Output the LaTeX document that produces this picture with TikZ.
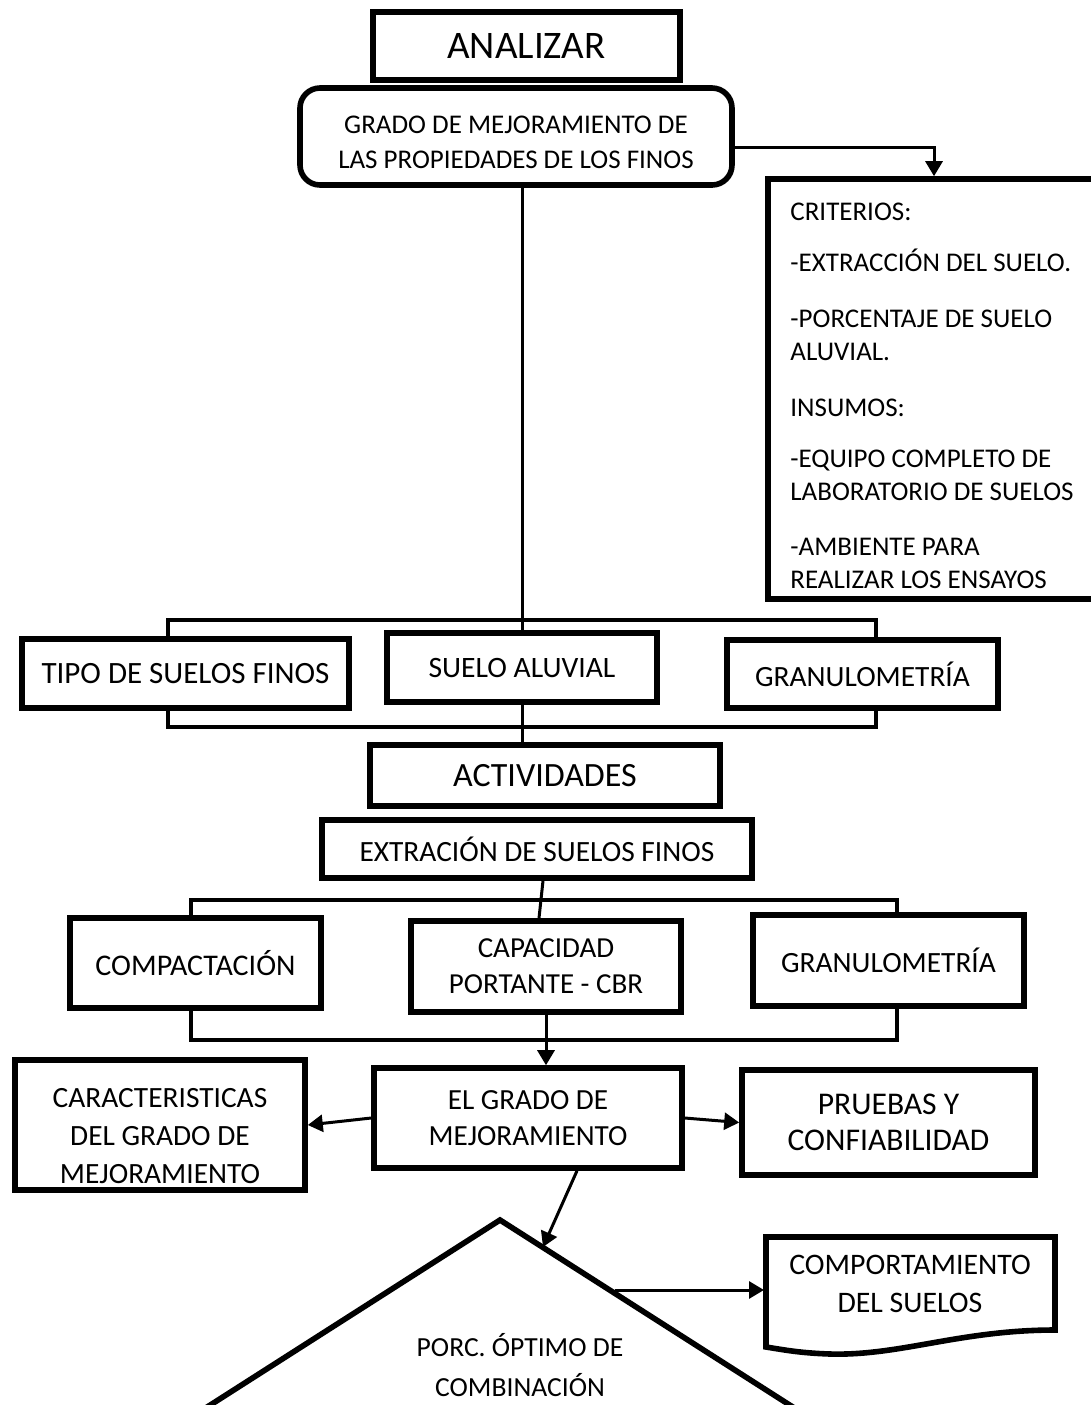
\documentclass[tikz,border=0pt]{standalone}
\usepackage{fontspec}
\setmainfont{Carlito}
\usepackage{tikz}
\usetikzlibrary{positioning}
\usetikzlibrary{arrows.meta,shapes}
\usetikzlibrary{calc}
\newcommand{\titlefont}{\fontsize{19.5}{21}\selectfont}
\tikzstyle{block}=[rectangle,draw,line width=2.8pt,inner sep=0pt,align=center]
\tikzstyle{titleblock}=[rectangle,draw,line width=3pt,inner sep=0pt,font=\titlefont]
\tikzstyle{arrowedge} = [draw,line width=1.5pt,-{Triangle[width=8.5pt,length=7.5pt]}]
\tikzstyle{bracketedge} = [draw,line width=1.8pt]
\tikzstyle{plainedge} = [draw,line width=1.5pt]
\tikzset{txt/.style={inner sep=0pt,align=center}}

\begin{document}
\begin{tikzpicture}[x=0.5pt,y=-0.5pt]

 \clip (0,0) rectangle (1091,1405);
 \def\u{0.5pt};

 %Top
 \node[titleblock,minimum width=307*\u,minimum height=68*\u] (analizar) at (526.5,46) {ANALIZAR};
 \node[block,rounded corners=10pt,minimum width=432*\u,minimum height=97*\u] (grado) at (516,136.5) {};
 \node[txt,font=\fontsize{13.5}{17.5}\selectfont] (gradotext) at ([yshift=-3pt]grado.center)
      {GRADO DE MEJORAMIENTO DE\\LAS PROPIEDADES DE LOS FINOS};

 %Criterios
 \node[block,minimum width=332*\u,minimum height=420*\u] (crit) at (934,389) {};
 \node[inner sep=0pt,anchor=north west,align=left,font=\fontsize{13.5}{16.5}\selectfont] (crittext) at (790,203)
      {CRITERIOS:\\[9pt]
       -EXTRACCIÓN DEL SUELO.\\[11.5pt]
       -PORCENTAJE DE SUELO\\ALUVIAL.\\[11.5pt]
       INSUMOS:\\[9pt]
       -EQUIPO COMPLETO DE\\LABORATORIO DE SUELOS\\[11pt]
       -AMBIENTE PARA\\REALIZAR LOS ENSAYOS};

 %Level 1
 \foreach \x/\y/\w/\h/\fs/\name/\label in {185.5/673.5/327/69/15.5/tipo/{TIPO DE SUELOS FINOS},
          522/667.5/270/69/14.8/aluvial/{SUELO ALUVIAL}, 862.5/674/271/68/14.7/granA/{GRANULOMETRÍA},
          545/775.5/350/61/17/activ/{ACTIVIDADES}, 537/849/430/58/14.7/extrac/{EXTRACIÓN DE SUELOS FINOS}}
          \node[block,font=\fontsize{\fs}{18}\selectfont,minimum width=\w*\u,minimum height=\h*\u] (\name) at (\x,\y) {\label};

 %Level 2
 \foreach \x/\y/\w/\h/\fs/\name/\label in {195.5/963/251/90/15/compact/{COMPACTACIÓN},
          546/966.5/270/91/14.5/capac/{CAPACIDAD\\PORTANTE - CBR}, 888.5/960.5/271/91/14.7/granB/{GRANULOMETRÍA}}
          \node[block,font=\fontsize{\fs}{18}\selectfont,minimum width=\w*\u,minimum height=\h*\u] (\name) at (\x,\y) {\label};

 %Level 3
 \foreach \x/\y/\w/\h/\fs/\name/\label in {528/1118/308/100/14.6/mejora/{EL GRADO DE\\MEJORAMIENTO},
          888.5/1122.5/293/105/15.8/pruebas/{PRUEBAS Y\\CONFIABILIDAD}}
          \node[block,font=\fontsize{\fs}{18}\selectfont,minimum width=\w*\u,minimum height=\h*\u] (\name) at (\x,\y) {\label};
 \node[block,minimum width=290*\u,minimum height=130*\u] (caract) at (160,1125) {};
 \node[txt,font=\fontsize{14.7}{19}\selectfont] (caracttext) at ([yshift=-5.5pt]caract.center)
      {CARACTERISTICAS\\DEL GRADO DE\\MEJORAMIENTO};

 %Triangle and document
 \draw[line width=2.8pt,line join=miter] (179,1425) -- (500,1220) -- (821,1425);
 \node[txt,font=\fontsize{13.8}{20}\selectfont] (porc) at (520,1365) {PORC. ÓPTIMO DE\\COMBINACIÓN};
 \coordinate (trihit) at (543,1247);
 \coordinate (triout) at (615,1290);

 \draw[line width=2.8pt] (766,1237) -- (1055,1237) -- (1055,1330)
      .. controls (960,1330) and (900,1356) .. (830,1354)
      .. controls (800,1353) and (785,1350) .. (766,1347) -- cycle;
 \node[txt,font=\fontsize{14.9}{19}\selectfont] (comport) at (910,1284) {COMPORTAMIENTO\\DEL SUELOS};
 \coordinate (docin) at (764,1290);

 %Connectors
 \path[arrowedge] (grado.east |- 0,147) -| (crit.north);
 \path[plainedge] (aluvial.north |- grado.south) -- (aluvial.north);

 \path[bracketedge] (168,0 |- tipo.north) |- (876,620) -- (876,0 |- granA.north);
 \path[bracketedge] (168,0 |- tipo.south) |- (876,727) -- (876,0 |- granA.south);
 \path[plainedge] (aluvial.south) -- (aluvial.south |- activ.north);

 \path[plainedge] ([xshift=3pt]extrac.south) -- ([xshift=-3.5pt]capac.north);
 \path[bracketedge] (191,0 |- compact.north) |- (897,900) -- (897,0 |- granB.north);
 \path[bracketedge] (191,0 |- compact.south) |- (897,1040) -- (897,0 |- granB.south);

 \path[arrowedge] (capac.south) -- (capac.south |- mejora.north);
 \path[arrowedge] (mejora.west) -- (caract.east);
 \path[arrowedge] (mejora.east) -- (pruebas.west);
 \path[arrowedge] ([xshift=24.5pt]mejora.south) -- (trihit);
 \path[arrowedge] (triout) -- (docin);

\end{tikzpicture}
\end{document}
